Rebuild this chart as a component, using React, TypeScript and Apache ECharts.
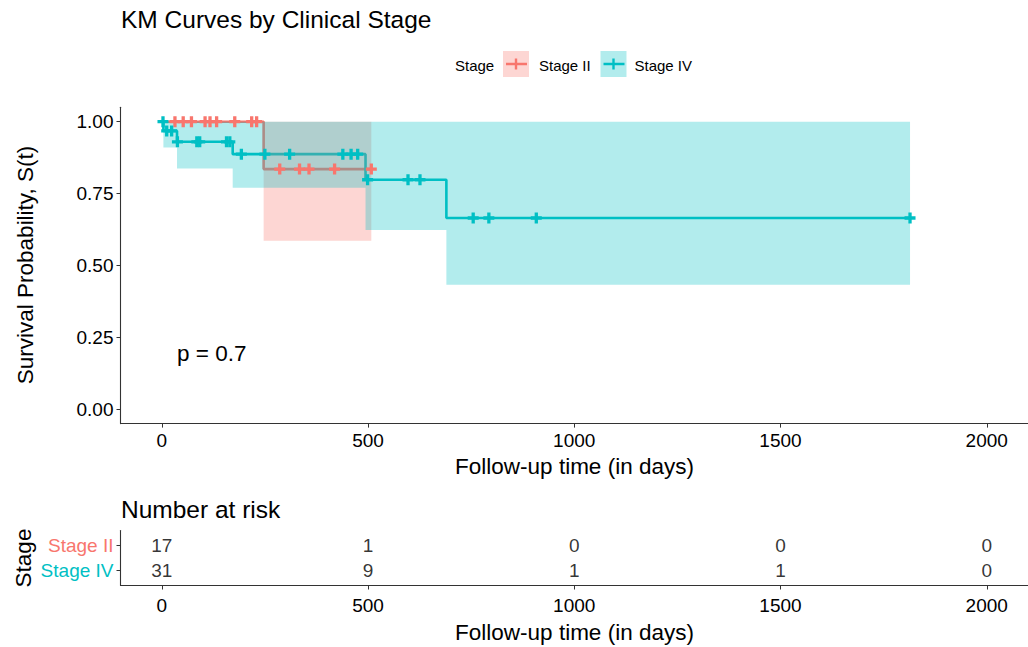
import React, { useEffect, useRef } from 'react';
import * as echarts from 'echarts';

const FONT = '"Liberation Sans", Arial, Helvetica, sans-serif';
const RED = '#F8766D';
const TEAL = '#00BFC4';
const RED_A = 'rgba(248,118,109,0.3)';
const TEAL_A = 'rgba(0,191,196,0.3)';

const stageNames = ['Stage II', 'Stage IV'];

// Stage II Kaplan-Meier estimate
const stageIITimes = [0, 247, 508];
const stageIISurv = [1, 0.835, 0.835];
const stageIILower = [1, 0.586];
const stageIIUpper = [1, 1];
const stageIICensor = [32, 52, 72, 105, 117, 133, 177, 218, 230, 286, 334, 357, 419, 508];

// Stage IV Kaplan-Meier estimate
const stageIVTimes = [0, 4, 37, 172, 494, 690, 1814];
const stageIVSurv = [1, 0.968, 0.93, 0.887, 0.798, 0.665, 0.665];
const stageIVLower = [1, 0.91, 0.837, 0.77, 0.623, 0.433];
const stageIVUpper = [1, 1, 1, 1, 1, 1];
const stageIVCensor = [3, 12, 24, 38, 85, 92, 157, 165, 193, 250, 310, 439, 459, 475, 499, 597, 626, 755, 793, 908, 1814];

// Number at risk
const riskTimes = [0, 500, 1000, 1500, 2000];
const riskStageII = [17, 1, 0, 0, 0];
const riskStageIV = [31, 9, 1, 1, 0];

const xTicks = [0, 500, 1000, 1500, 2000];
const yTicks = [0, 0.25, 0.5, 0.75, 1];
const riskRows = [1, 2]; // 1 = Stage IV, 2 = Stage II

const PLUS = 'path://M3.5,0H6.5V3.5H10V6.5H6.5V10H3.5V6.5H0V3.5H3.5Z';

function survAt(times: number[], surv: number[], t: number) {
  let idx = 0;
  for (let i = 0; i < times.length; i++) if (times[i] <= t) idx = i;
  return surv[idx];
}

function bandSeries(times: number[], lower: number[], upper: number[], fill: string) {
  return {
    type: 'custom',
    xAxisIndex: 0,
    yAxisIndex: 0,
    z: 3,
    silent: true,
    clip: false,
    data: [[times[0], upper[0]]],
    renderItem: (_p: any, api: any) => {
      const pts: number[][] = [];
      for (let i = 0; i < lower.length; i++) {
        pts.push(api.coord([times[i], upper[i]]));
        pts.push(api.coord([times[i + 1], upper[i]]));
      }
      for (let i = lower.length - 1; i >= 0; i--) {
        pts.push(api.coord([times[i + 1], lower[i]]));
        pts.push(api.coord([times[i], lower[i]]));
      }
      return { type: 'polygon', shape: { points: pts }, style: { fill } };
    },
  };
}

function txt(text: string, x: number, y: number, size: number, opts: any = {}) {
  return {
    type: 'text',
    x,
    y,
    rotation: opts.rotation || 0,
    style: {
      text,
      fontSize: size,
      fontFamily: FONT,
      fill: opts.fill || '#000',
      align: opts.align || 'left',
      verticalAlign: 'middle',
      textAlign: opts.align || 'left',
      textVerticalAlign: 'middle',
    },
  };
}

function legendKey(x: number, fillA: string, color: string) {
  return [
    { type: 'rect', shape: { x, y: 51, width: 26, height: 26 }, style: { fill: fillA } },
    { type: 'line', shape: { x1: x + 3, y1: 64, x2: x + 24, y2: 64 }, style: { stroke: color, lineWidth: 2.5 } },
    { type: 'line', shape: { x1: x + 13, y1: 58.5, x2: x + 13, y2: 69.5 }, style: { stroke: color, lineWidth: 2.4 } },
  ];
}

const axisCommon = {
  axisLine: { show: true, onZero: false, lineStyle: { color: '#333', width: 1.1 } },
  splitLine: { show: false },
};

const plain = (v: any) => String(Number(v));

export default function App() {
  const ref = useRef<HTMLDivElement>(null);
  useEffect(() => {
    if (!ref.current) return;
    const chart = echarts.init(ref.current, null, { renderer: 'svg' });
    const option: any = {
      animation: false,
      backgroundColor: '#fff',
      textStyle: { fontFamily: FONT },
      grid: [
        { left: 120.5, top: 107.3, width: 910.5, height: 316.3 },
        { left: 120.5, top: 530.5, width: 910.5, height: 55 },
      ],
      xAxis: [
        {
          type: 'value', gridIndex: 0, min: -100, max: 2100, ...axisCommon,
          axisTick: { show: true, length: 4, customValues: xTicks, lineStyle: { color: '#333' } },
          axisLabel: { customValues: xTicks, fontSize: 19, color: '#000', fontFamily: FONT, margin: 7, formatter: plain },
        },
        {
          type: 'value', gridIndex: 1, min: -100, max: 2100, ...axisCommon,
          axisTick: { show: true, length: 4, customValues: xTicks, lineStyle: { color: '#333' } },
          axisLabel: { customValues: xTicks, fontSize: 19, color: '#000', fontFamily: FONT, margin: 10, formatter: plain },
        },
      ],
      yAxis: [
        {
          type: 'value', gridIndex: 0, min: -0.05, max: 1.05, ...axisCommon,
          axisTick: { show: true, length: 4, customValues: yTicks, lineStyle: { color: '#333' } },
          axisLabel: {
            customValues: yTicks, fontSize: 19, color: '#000', fontFamily: FONT, margin: 7,
            formatter: (v: any) => Number(v).toFixed(2),
          },
        },
        {
          type: 'value', gridIndex: 1, min: 0.4, max: 2.6, ...axisCommon,
          axisTick: { show: true, length: 4, customValues: riskRows, lineStyle: { color: '#333' } },
          axisLabel: {
            customValues: riskRows, fontSize: 19, fontFamily: FONT, margin: 7,
            formatter: (v: any) => (Number(v) === 2 ? stageNames[0] : stageNames[1]),
            color: (v: any) => (Number(v) === 2 ? RED : TEAL),
          },
        },
      ],
      series: [
        {
          type: 'line', name: stageNames[0], xAxisIndex: 0, yAxisIndex: 0, step: 'end', z: 2,
          symbol: 'none', data: stageIITimes.map((t, i) => [t, stageIISurv[i]]),
          lineStyle: { color: RED, width: 2.6 }, silent: true,
        },
        {
          type: 'line', name: stageNames[1], xAxisIndex: 0, yAxisIndex: 0, step: 'end', z: 2,
          symbol: 'none', data: stageIVTimes.map((t, i) => [t, stageIVSurv[i]]),
          lineStyle: { color: TEAL, width: 2.6 }, silent: true,
        },
        bandSeries(stageIITimes, stageIILower, stageIIUpper, RED_A),
        bandSeries(stageIVTimes, stageIVLower, stageIVUpper, TEAL_A),
        {
          type: 'scatter', xAxisIndex: 0, yAxisIndex: 0, z: 4, symbol: PLUS, symbolSize: 11,
          itemStyle: { color: RED, opacity: 1 }, silent: true,
          data: stageIICensor.map((t) => [t, survAt(stageIITimes, stageIISurv, t)]),
        },
        {
          type: 'scatter', xAxisIndex: 0, yAxisIndex: 0, z: 4, symbol: PLUS, symbolSize: 11,
          itemStyle: { color: TEAL, opacity: 1 }, silent: true,
          data: stageIVCensor.map((t) => [t, survAt(stageIVTimes, stageIVSurv, t)]),
        },
        {
          type: 'scatter', xAxisIndex: 1, yAxisIndex: 1, symbolSize: 1, silent: true,
          itemStyle: { color: 'rgba(0,0,0,0)' },
          label: {
            show: true, position: 'inside', fontSize: 19, color: '#000', fontFamily: FONT,
            textBorderWidth: 0, formatter: (p: any) => String(p.value[2]),
          },
          data: [
            ...riskTimes.map((t, i) => [t, 2, riskStageII[i]]),
            ...riskTimes.map((t, i) => [t, 1, riskStageIV[i]]),
          ],
        },
      ],
      graphic: [
        txt('KM Curves by Clinical Stage', 121, 19, 24.5),
        txt('Stage', 455, 65, 15),
        ...legendKey(503, RED_A, RED),
        txt(stageNames[0], 539, 65, 15),
        ...legendKey(600.5, TEAL_A, TEAL),
        txt(stageNames[1], 634.5, 65, 15),
        txt('Survival Probability, S(t)', 25, 265, 22.5, { align: 'center', rotation: Math.PI / 2 }),
        txt('Follow-up time (in days)', 574.5, 466, 22.5, { align: 'center' }),
        txt('p = 0.7', 177, 353, 22.5),
        txt('Number at risk', 121, 509, 24.5),
        txt('Stage', 23, 558, 22.5, { align: 'center', rotation: Math.PI / 2 }),
        txt('Follow-up time (in days)', 574.5, 632, 22.5, { align: 'center' }),
      ],
    };
    chart.setOption(option);
    return () => chart.dispose();
  }, []);
  return <div ref={ref} style={{ position: 'fixed', left: 0, top: 0, width: 1028, height: 647, background: '#fff' }} />;
}
